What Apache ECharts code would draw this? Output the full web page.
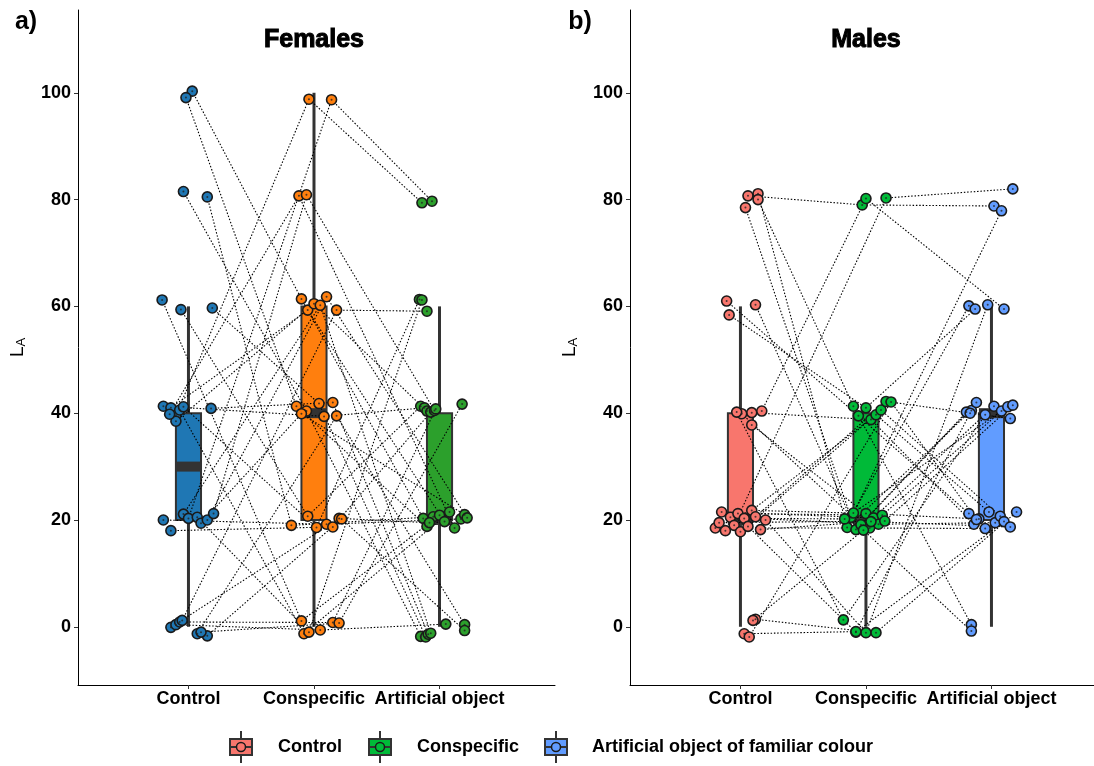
<!DOCTYPE html>
<html><head><meta charset="utf-8">
<script src="https://cdn.jsdelivr.net/npm/echarts@6/dist/echarts.min.js"></script>
<style>html,body{margin:0;padding:0;background:#fff}#c{width:1094px;height:766px}</style>
</head><body><div id="c"></div>
<script>
const categories = ['Control', 'Conspecific', 'Artificial object'];
const legendLabels = ['Control', 'Conspecific', 'Artificial object of familiar colour'];
const yTicks = [0, 20, 40, 60, 80, 100];
const panelTitles = ['Females', 'Males'];
const panelTags = ['a)', 'b)'];
const femaleColors = ['#1F77B4', '#FF7F0E', '#2CA02C'];
const maleColors = ['#F8766D', '#00BA38', '#619CFF'];

// per-subject values (same index = same individual)
const femaleControl     = [100,100,80,80,60,60,60,40,40,40,40,40,40,40,40,20,20,20,20,20,20,20,20,0,0,0,0,0,0,0];
const femaleConspecific = [60,40,40,20,0,20,40,40,60,100,0,20,60,80,40,20,20,60,100,0,40,60,80,20,0,0,60,40,20,0];
const femaleArtificial  = [20,20,0,20,20,40,0,40,20,80,20,60,40,20,0,20,40,0,80,60,20,20,40,20,0,40,60,0,0,40];
const maleControl       = [80,80,80,80,60,60,60,40,40,40,40,40,20,20,20,20,20,20,20,20,20,20,20,20,20,20,0,0,0,0];
const maleConspecific   = [80,20,40,20,40,40,20,40,20,80,20,0,20,20,40,20,80,20,40,20,0,20,40,20,0,20,0,20,0,40];
const maleArtificial    = [80,40,0,60,20,60,40,20,40,60,20,40,20,40,20,20,80,40,20,40,20,80,40,20,60,40,20,0,40,20];

// jitter (x in category units, y in value units)
const femaleControlJx = [0.03,-0.02,-0.04,0.15,-0.21,-0.06,0.19,-0.2,-0.14,-0.1,-0.07,-0.04,-0.1,-0.15,0.18,-0.2,-0.14,-0.04,0.0,0.07,0.1,0.15,0.2,-0.14,-0.1,-0.07,-0.05,0.07,0.15,0.1];
const femaleControlJy = [0.3,-0.9,1.5,0.5,1.2,-0.6,-0.3,1.3,1.0,-0.4,0.6,1.2,-1.5,-0.2,0.9,0,-2,1.1,0.3,0.5,-0.6,0,1.2,-0.1,0.4,0.9,1.2,-1.3,-1.7,-1.0];
const femaleConspecificJx = [-0.1,-0.14,-0.06,-0.18,-0.1,-0.05,0.04,0.08,-0.05,-0.04,-0.08,0.02,0.0,-0.12,0.15,0.1,0.15,0.05,0.14,-0.04,-0.1,0.1,-0.06,0.2,0.05,0.15,0.18,0.18,0.22,0.2];
const femaleConspecificJy = [1.4,1.3,0.4,-1,1.1,0.7,1.8,-0.6,-0.7,-1.2,-1.3,-1.4,0.5,0.7,2.0,-0.8,-1.3,0.2,-1.3,-1.0,-0.1,1.8,0.9,0.3,-0.6,0.8,-0.7,-0.5,0.2,0.7];
const femaleArtificialJx = [-0.13,-0.1,-0.15,-0.05,0.0,-0.15,-0.11,-0.12,0.04,-0.14,0.08,-0.16,-0.1,0.12,-0.09,0.17,-0.07,-0.07,-0.06,-0.14,0.2,0.22,-0.04,-0.08,0.05,-0.03,-0.1,0.2,0.2,0.18];
const femaleArtificialJy = [0.3,-1.2,-1.8,0.6,0.9,1.3,-1.9,1.0,-0.3,-0.6,1.5,1.3,0.4,-1.5,-1.4,0.2,0.2,-1.2,-0.3,1.2,1.0,0.4,0.5,-0.5,0.5,0.8,-0.9,0.4,-0.7,1.7];
const maleControlJx = [0.06,0.14,0.14,0.04,-0.11,-0.09,0.12,0.09,0.01,0.17,0.09,-0.03,-0.2,-0.15,-0.12,-0.08,-0.05,-0.02,0.0,0.03,0.06,0.09,0.12,0.16,0.2,-0.17,0.12,0.1,0.03,0.07];
const maleControlJy = [0.7,1.1,0.0,-1.5,1.0,-1.6,0.3,0.1,-0.1,0.4,-2.2,0.2,-1.5,1.5,-2.0,0.5,-1.0,1.2,-2.2,0.3,-1.2,1.8,0.6,-1.8,0.0,-0.5,1.4,1.2,-1.3,-1.9];
const maleConspecificJx = [-0.03,-0.15,-0.1,-0.12,-0.06,0.0,-0.08,0.04,-0.04,0.0,0.0,-0.18,0.03,0.06,0.08,0.1,0.16,0.13,0.12,-0.17,-0.08,-0.1,0.16,0.04,0.0,0.15,0.08,-0.02,-0.08,0.2];
const maleConspecificJy = [-1.0,-1.4,1.3,0.5,-0.5,1.0,-1.8,-1.2,-0.9,0.2,1.2,1.3,-1.5,0.4,-0.3,-0.8,0.3,0.9,0.6,0.2,-1.0,1.3,2.2,-0.3,-1.1,-0.2,-1.1,-1.9,-0.9,2.1];
const maleArtificialJx = [0.02,-0.16,-0.16,-0.18,-0.18,-0.13,-0.2,-0.14,-0.12,0.1,-0.1,-0.05,-0.05,0.02,-0.02,0.03,0.17,0.08,0.07,0.13,0.1,0.08,0.15,0.15,-0.03,0.17,0.2,-0.16,-0.17,-0.12];
const maleArtificialJy = [-1.2,0.5,0.4,0.1,1.2,-0.5,0.2,-0.8,2.0,-0.5,0.2,-0.3,-1.6,1.3,1.5,-0.5,2.0,0.4,0.7,1.2,-0.3,-2.1,-1.0,-1.3,0.3,1.5,1.5,-0.8,0.0,0.1];

const panels = [
  { vals: [femaleControl, femaleConspecific, femaleArtificial],
    jx: [femaleControlJx, femaleConspecificJx, femaleArtificialJx],
    jy: [femaleControlJy, femaleConspecificJy, femaleArtificialJy],
    colors: femaleColors },
  { vals: [maleControl, maleConspecific, maleArtificial],
    jx: [maleControlJx, maleConspecificJx, maleArtificialJx],
    jy: [maleControlJy, maleConspecificJy, maleArtificialJy],
    colors: maleColors }
];

function quantile(sorted, p) {
  const h = (sorted.length - 1) * p, lo = Math.floor(h), hi = Math.ceil(h);
  return sorted[lo] + (h - lo) * (sorted[hi] - sorted[lo]);
}
function boxStats(arr) {
  const s = arr.slice().sort((a, b) => a - b);
  const q1 = quantile(s, 0.25), md = quantile(s, 0.5), q3 = quantile(s, 0.75);
  const iqr = q3 - q1;
  const lo = s.filter(v => v >= q1 - 1.5 * iqr), hi = s.filter(v => v <= q3 + 1.5 * iqr);
  return [Math.min(...lo), q1, md, q3, Math.max(...hi)];
}

const DARK = '#333333';
function renderBox(params, api) {
  const x = api.value(0), mn = api.value(1), q1 = api.value(2), md = api.value(3), q3 = api.value(4), mx = api.value(5);
  const pMin = api.coord([x, mn]), pQ1 = api.coord([x, q1]), pQ3 = api.coord([x, q3]), pMax = api.coord([x, mx]);
  const left = api.coord([x - 0.1, q3])[0], right = api.coord([x + 0.1, q3])[0];
  const pMd = api.coord([x, md]);
  const color = api.visual('color');
  return { type: 'group', children: [
    { type: 'line', shape: { x1: pMin[0], y1: pMin[1], x2: pQ1[0], y2: pQ1[1] }, style: { stroke: DARK, lineWidth: 3 } },
    { type: 'line', shape: { x1: pQ3[0], y1: pQ3[1], x2: pMax[0], y2: pMax[1] }, style: { stroke: DARK, lineWidth: 3 } },
    { type: 'rect', shape: { x: left, y: pQ3[1], width: right - left, height: pQ1[1] - pQ3[1] }, style: { fill: color, stroke: DARK, lineWidth: 2 } },
    { type: 'rect', shape: { x: left, y: pMd[1] - 5, width: right - left, height: 10 }, style: { fill: DARK } }
  ] };
}

const FONT = '"Liberation Sans", Arial, sans-serif';
const grids = [], xAxes = [], yAxes = [], series = [], graphics = [];
const gridLefts = [78, 630], gridWidths = [477, 464], xMaxes = [3.92, 3.817];
panels.forEach((pn, pi) => {
  grids.push({ left: gridLefts[pi], top: 10, width: gridWidths[pi], height: 675 });
  xAxes.push({
    type: 'value', gridIndex: pi, min: 0.12, max: xMaxes[pi],
    axisLine: { show: true, onZero: false, lineStyle: { color: '#000', width: 1 } },
    axisTick: { show: true, length: 4, lineStyle: { color: '#333' }, customValues: [1, 2, 3] },
    axisLabel: { customValues: [1, 2, 3], formatter: v => categories[Math.round(v) - 1] || '',
      color: '#000', fontWeight: 'bold', fontSize: 18, fontFamily: FONT, margin: 5 },
    splitLine: { show: false }
  });
  yAxes.push({
    type: 'value', gridIndex: pi, min: -10.9, max: 115.5,
    name: '{l|L}{s|A}', nameLocation: 'middle', nameGap: 50, nameRotate: 90,
    nameTextStyle: { rich: {
      l: { fontSize: 19, color: '#000', fontFamily: FONT },
      s: { fontSize: 13, color: '#000', fontFamily: FONT, padding: [8, 0, 0, 0] } } },
    axisLine: { show: true, onZero: false, lineStyle: { color: '#000', width: 1 } },
    axisTick: { show: true, length: 4, lineStyle: { color: '#333' }, customValues: yTicks },
    axisLabel: { customValues: yTicks, color: '#000', fontWeight: 'bold', fontSize: 18, fontFamily: FONT, margin: 7 },
    splitLine: { show: false }
  });
  // boxes
  series.push({
    type: 'custom', xAxisIndex: pi, yAxisIndex: pi, clip: false, z: 1, silent: true,
    renderItem: renderBox, encode: { x: 0, y: [1, 2, 3, 4, 5] },
    data: pn.vals.map((v, ci) => ({ value: [ci + 1].concat(boxStats(v)), itemStyle: { color: pn.colors[ci] } }))
  });
  // connecting dotted lines
  const n = pn.vals[0].length;
  const lineData = [];
  for (let i = 0; i < n; i++) {
    lineData.push({ coords: [0, 1, 2].map(ci => [ci + 1 + pn.jx[ci][i], pn.vals[ci][i] + pn.jy[ci][i]]) });
  }
  series.push({
    type: 'lines', coordinateSystem: 'cartesian2d', xAxisIndex: pi, yAxisIndex: pi, polyline: true, z: 2, silent: true,
    lineStyle: { color: '#000', width: 1.1, type: [1.5, 1.8], opacity: 1 }, data: lineData
  });
  // points
  [0, 1, 2].forEach(ci => {
    const pts = pn.vals[ci].map((v, i) => [ci + 1 + pn.jx[ci][i], v + pn.jy[ci][i]]);
    series.push({
      type: 'scatter', xAxisIndex: pi, yAxisIndex: pi, z: 3, symbol: 'circle', symbolSize: 10, silent: true,
      itemStyle: { color: pn.colors[ci], borderColor: '#1a1a1a', borderWidth: 1.6, opacity: 1 }, data: pts
    });
    series.push({
      type: 'scatter', xAxisIndex: pi, yAxisIndex: pi, z: 4, symbol: 'circle', symbolSize: 2, silent: true,
      itemStyle: { color: '#222', opacity: 0.8 }, data: pts
    });
  });
  const cx = gridLefts[pi] + (2 - 0.12) / (xMaxes[pi] - 0.12) * gridWidths[pi];
  graphics.push({ type: 'text', x: cx, y: 40, style: { text: panelTitles[pi], fill: '#000', stroke: '#000', lineWidth: 1,
    font: 'bold 25px ' + FONT, textAlign: 'center', textVerticalAlign: 'middle' } });
  graphics.push({ type: 'text', x: [26, 580][pi], y: 22, style: { text: panelTags[pi], fill: '#000',
    font: 'bold 25px ' + FONT, textAlign: 'center', textVerticalAlign: 'middle' } });
});

// legend (boxplot glyph keys)
const keyX = [241, 380, 556], textX = [278, 417, 592], ly = 747;
legendLabels.forEach((lab, i) => {
  graphics.push({ type: 'group', x: keyX[i], y: ly, children: [
    { type: 'line', shape: { x1: 0, y1: -16, x2: 0, y2: 16 }, style: { stroke: DARK, lineWidth: 2 } },
    { type: 'rect', shape: { x: -11, y: -8, width: 22, height: 16 }, style: { fill: maleColors[i], stroke: DARK, lineWidth: 2 } },
    { type: 'line', shape: { x1: -11, y1: 0, x2: 11, y2: 0 }, style: { stroke: DARK, lineWidth: 2 } },
    { type: 'circle', shape: { cx: 0, cy: 0, r: 4.5 }, style: { fill: maleColors[i], stroke: '#1a1a1a', lineWidth: 1.5 } }
  ] });
  graphics.push({ type: 'text', x: textX[i], y: ly, style: { text: lab, fill: '#000',
    font: 'bold 18px ' + FONT, textAlign: 'left', textVerticalAlign: 'middle' } });
});

const chart = echarts.init(document.getElementById('c'), null, { renderer: 'canvas' });
chart.setOption({
  animation: false, backgroundColor: '#fff',
  grid: grids, xAxis: xAxes, yAxis: yAxes, series: series, graphic: graphics
});
</script>
</body></html>
